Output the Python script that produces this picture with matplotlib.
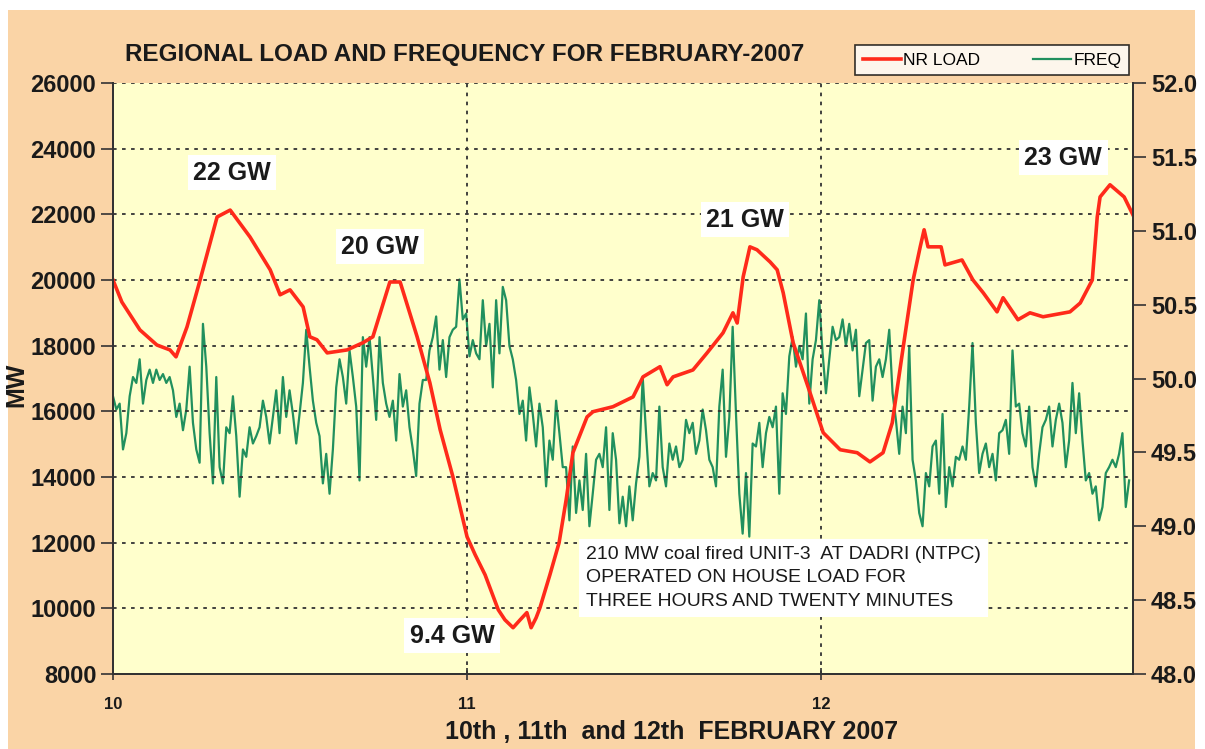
import numpy as np
import matplotlib
matplotlib.use("Agg")
import matplotlib.pyplot as plt
from matplotlib.patches import Rectangle
from matplotlib.lines import Line2D

# NR load (MW), day of month as x
load_day = [10.000, 10.025, 10.076, 10.124, 10.161, 10.178, 10.209, 10.246, 10.294, 10.331,
            10.387, 10.444, 10.472, 10.500, 10.537, 10.556, 10.576, 10.605, 10.661, 10.706,
            10.734, 10.782, 10.811, 10.859, 10.895, 10.924, 10.960, 11.000, 11.023, 11.051,
            11.088, 11.107, 11.130, 11.150, 11.169, 11.181, 11.195, 11.206, 11.234, 11.260,
            11.280, 11.299, 11.339, 11.356, 11.412, 11.469, 11.497, 11.545, 11.565, 11.582,
            11.638, 11.678, 11.723, 11.751, 11.763, 11.780, 11.799, 11.819, 11.856, 11.876,
            11.893, 11.921, 11.969, 12.006, 12.054, 12.102, 12.138, 12.175, 12.201, 12.232,
            12.260, 12.280, 12.291, 12.302, 12.339, 12.350, 12.398, 12.429, 12.458, 12.497,
            12.514, 12.556, 12.590, 12.627, 12.703, 12.732, 12.766, 12.780, 12.788, 12.816,
            12.856, 12.881]
load_mw = [20000, 19330, 18480, 18020, 17870, 17660, 18570, 20000, 21920, 22130,
           21310, 20310, 19550, 19700, 19180, 18270, 18180, 17780, 17870, 18090,
           18270, 19940, 19940, 18270, 16870, 15440, 14010, 12180, 11630, 11020,
           9960, 9650, 9410, 9650, 9870, 9410, 9710, 10020, 11020, 12000,
           13310, 14740, 15830, 15990, 16140, 16440, 17050, 17360, 16810, 17050,
           17260, 17780, 18390, 19000, 18690, 20100, 21010, 20920, 20550, 20310,
           19610, 18090, 16560, 15350, 14830, 14740, 14460, 14740, 15650, 17960,
           20000, 21010, 21530, 21010, 21010, 20460, 20610, 20000, 19610, 19030,
           19460, 18790, 19000, 18880, 19030, 19300, 20000, 21920, 22530, 22900,
           22530, 21980]

# grid frequency (Hz), read at regular sample steps across the three days
freq_hz = [
    49.88, 49.79, 49.83, 49.52, 49.63, 49.88, 50.01, 49.97, 50.13, 49.83,
    49.99, 50.06, 49.97, 50.06, 49.99, 50.03, 49.97, 50.01, 49.92, 49.74,
    49.83, 49.65, 49.79, 50.08, 49.70, 49.52, 49.43, 50.37, 50.08, 49.63,
    49.29, 50.01, 49.40, 49.29, 49.67, 49.63, 49.88, 49.61, 49.20, 49.52,
    49.47, 49.67, 49.56, 49.61, 49.67, 49.85, 49.74, 49.56, 49.74, 49.92,
    49.63, 50.01, 49.74, 49.92, 49.76, 49.56, 49.76, 49.97, 50.33, 50.08,
    49.85, 49.70, 49.61, 49.29, 49.49, 49.22, 49.52, 49.94, 50.13, 50.01,
    49.83, 50.19, 50.01, 49.81, 49.31, 50.28, 50.08, 50.28, 50.01, 49.72,
    50.28, 49.97, 49.83, 49.74, 49.85, 49.58, 50.03, 49.81, 49.92, 49.67,
    49.52, 49.34, 49.83, 49.99, 49.99, 50.19, 50.28, 50.42,
    50.06, 50.26, 50.01, 50.28, 50.33, 50.35, 50.67, 50.40, 50.44, 50.15,
    50.26, 50.17, 50.13, 50.53, 50.22, 50.37, 49.94, 50.53, 50.17, 50.62,
    50.53, 50.22, 50.13, 49.99, 49.76, 49.85, 49.58, 49.94, 49.76, 49.54,
    49.83, 49.67, 49.27, 49.58, 49.45, 49.85, 49.63, 49.40, 49.40, 49.04,
    49.54, 49.09, 49.31, 49.11, 49.49, 49.00, 49.22, 49.45, 49.49, 49.40,
    49.67, 49.11, 49.63, 49.45, 49.02, 49.20, 49.00, 49.27, 49.04, 49.29,
    49.47, 50.01, 49.63, 49.27, 49.36, 49.31, 49.81, 49.40, 49.27, 49.56,
    49.45, 49.54, 49.40, 49.45, 49.72, 49.63, 49.70, 49.49, 49.58, 49.79,
    49.65, 49.45, 49.40, 49.27, 49.81, 50.06, 49.47, 49.74, 50.35, 49.76,
    49.22, 48.95, 49.36, 48.93, 49.56, 49.54, 49.70, 49.40, 49.63, 49.74,
    49.67, 49.81, 49.22, 49.90, 49.76, 50.15, 50.28, 50.08, 50.22, 50.13,
    50.44, 49.83, 50.13, 50.26, 50.53, 50.17, 49.90, 50.13, 50.35, 50.26,
    50.28, 50.40, 50.22, 50.37, 50.19, 50.33, 49.88, 50.06, 50.24, 50.26,
    49.85, 50.08, 50.13, 50.01, 50.13, 50.33, 49.90, 49.72, 49.49, 49.81,
    49.63, 50.22, 49.45, 49.31, 49.09, 49.00, 49.36, 49.27, 49.54, 49.58,
    49.22, 49.76, 49.13, 49.40, 49.27, 49.47, 49.45, 49.54, 49.45, 49.81,
    50.24, 49.70, 49.36, 49.49, 49.56, 49.40, 49.49, 49.31, 49.63, 49.65,
    49.72, 49.49, 50.19, 49.81, 49.83, 49.63, 49.54, 49.81, 49.40, 49.27,
    49.49, 49.67, 49.72, 49.81, 49.54, 49.72, 49.83, 49.70, 49.40, 49.58,
    49.97, 49.63, 49.90, 49.58, 49.31, 49.36, 49.22, 49.27, 49.04, 49.13,
    49.36, 49.40, 49.45, 49.40, 49.49, 49.63, 49.13, 49.31,
]
freq_day = np.linspace(10.0, 12.87, len(freq_hz))

mw_ticks = [8000, 10000, 12000, 14000, 16000, 18000, 20000, 22000, 24000, 26000]
hz_ticks = [48.0, 48.5, 49.0, 49.5, 50.0, 50.5, 51.0, 51.5, 52.0]
day_ticks = [10, 11, 12]

# peak labels: (text, day, MW)
peak_labels = [("22 GW", 10.336, 23260), ("20 GW", 10.754, 21010),
               ("9.4 GW", 10.958, 9170), ("21 GW", 11.785, 21830),
               ("23 GW", 12.684, 23720)]
note = ("210 MW coal fired UNIT-3  AT DADRI (NTPC)\n"
        "OPERATED ON HOUSE LOAD FOR\n"
        "THREE HOURS AND TWENTY MINUTES")

NARROW = ['Liberation Sans Narrow', 'Liberation Sans', 'DejaVu Sans']
plt.rcParams['font.family'] = NARROW

PEACH = '#FAD4A6'
PLOT_BG = '#FFFFCC'
RED = '#FF2A1A'
GREEN = '#21905E'
INK = '#1a1a1a'

fig = plt.figure(figsize=(12.05, 7.49), dpi=100, facecolor='white')
fig.patches.append(Rectangle((8 / 1205, 0), 1187 / 1205, 1 - 10 / 749,
                             transform=fig.transFigure, facecolor=PEACH,
                             edgecolor='none', zorder=-10))

ax = fig.add_axes([113 / 1205, 1 - 674 / 749, 1020 / 1205, 591 / 749])
ax2 = ax.twinx()

# red load on top of green frequency
ax.set_zorder(ax2.get_zorder() + 1)
ax.patch.set_visible(False)
ax2.patch.set_visible(True)
ax2.set_facecolor(PLOT_BG)

ax2.plot(freq_day, freq_hz, color=GREEN, lw=1.6)
ax.plot(load_day, load_mw, color=RED, lw=2.6, solid_joinstyle='round')

ax.set_xlim(10, 12.881)
ax.set_ylim(8000, 26000)
ax2.set_ylim(48, 52)

ax.set_yticks(mw_ticks)
ax.set_yticklabels([str(v) for v in mw_ticks], fontsize=17, fontweight='bold', color=INK)
ax2.set_yticks(hz_ticks)
ax2.set_yticklabels(['%.1f' % v for v in hz_ticks], fontsize=17, fontweight='bold', color=INK)
ax.set_xticks(day_ticks)
ax.set_xticklabels([str(v) for v in day_ticks], fontsize=12, fontweight='bold', color=INK)

ax.grid(True, linestyle=(0, (2, 3)), color='#333333', lw=1.3)
ax.tick_params(axis='y', direction='out', length=9, width=1.2, color='#333333', pad=3)
ax2.tick_params(axis='y', direction='out', length=9, width=1.2, color='#333333', pad=4)
ax.tick_params(axis='x', direction='inout', length=9, width=1.2, color='#333333', pad=12)

for a in (ax, ax2):
    a.spines['top'].set_visible(False)
    for s in ('left', 'right', 'bottom'):
        a.spines[s].set_color('#333333')
        a.spines[s].set_linewidth(1.4)

ax.set_ylabel('MW', fontsize=18, fontweight='bold', color=INK, labelpad=-2)
ax.yaxis.set_label_coords(-0.083, 0.49)
ax.set_xlabel('10th , 11th  and 12th  FEBRUARY 2007', fontsize=18,
              fontweight='bold', color=INK)
ax.xaxis.set_label_coords(0.548, -0.077)

fig.text(125 / 1205, 1 - 55 / 749, 'REGIONAL LOAD AND FREQUENCY FOR FEBRUARY-2007',
         fontsize=17.5, fontweight='bold', color=INK, ha='left', va='center')

for txt, d, mw in peak_labels:
    ax.text(d, mw, txt, fontsize=18, fontweight='bold', color=INK, ha='center',
            va='center', zorder=5,
            bbox=dict(facecolor='white', edgecolor='none', pad=4))

ax.text(11.335, 11900, note, fontsize=14, color=INK, ha='left', va='top',
        linespacing=1.5, zorder=5,
        bbox=dict(facecolor='white', edgecolor='none', pad=5))

handles = [Line2D([], [], color=RED, lw=2.6), Line2D([], [], color=GREEN, lw=1.6)]
leg = fig.legend(handles, ['NR LOAD', 'FREQ'], loc='center', ncol=2,
                 bbox_to_anchor=(992 / 1205, 1 - 60 / 749), fontsize=12.5,
                 frameon=True, fancybox=False, edgecolor='black',
                 handlelength=2.2, handletextpad=0.15, columnspacing=3.0,
                 borderpad=0.45)
leg.get_frame().set_linewidth(1.2)

fig.savefig('out.png', dpi=100, facecolor=fig.get_facecolor())
